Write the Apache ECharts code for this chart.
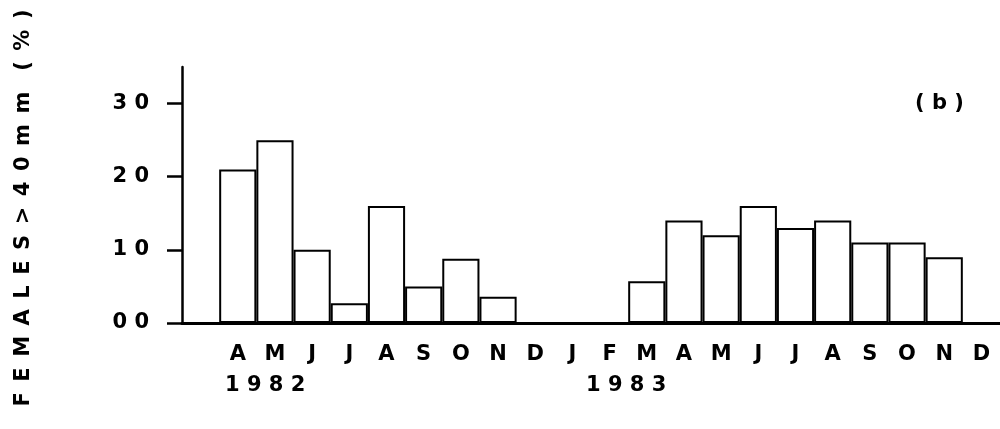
<!DOCTYPE html>
<html>
<head>
<meta charset="utf-8">
<script src="https://cdn.jsdelivr.net/npm/echarts@6/dist/echarts.min.js"></script>
<style>
  html, body { margin: 0; padding: 0; background: #fff; }
  #chart { width: 1000px; height: 429px; }
</style>
</head>
<body>
<div id="chart"></div>
<script>
// Monthly share of females larger than 40 mm, April 1982 – December 1983
const months = ['A','M','J','J','A','S','O','N','D','J','F','M','A','M','J','J','A','S','O','N','D'];
const femalesOver40 = [21, 25, 10, 2.7, 16, 5, 8.8, 3.6, null, null, null, 5.7, 14, 12, 16, 13, 14, 11, 11, 9, null];
const yTicks = [0, 10, 20, 30];
const yTickLabels = ['0 0', '1 0', '2 0', '3 0'];
const years = ['1 9 8 2', '1 9 8 3'];

const FONT = '"DejaVu Sans", "Liberation Sans", sans-serif';
const SIZE = 21;
const SP = '\u2002';

// a blank leading slot keeps the first bar clear of the vertical axis
const cats = [''].concat(months.map((m, i) => m + '\u200b'.repeat(i)));
const vals = [null].concat(femalesOver40);

const chart = echarts.init(document.getElementById('chart'), null, { renderer: 'canvas' });
chart.setOption({
  animation: false,
  backgroundColor: '#fff',
  grid: { left: 182, right: 0, top: 67, bottom: 106, containLabel: false },
  xAxis: {
    type: 'category',
    data: cats,
    boundaryGap: true,
    axisLine: { lineStyle: { color: '#000', width: 3 } },
    axisTick: { show: false },
    axisLabel: {
      color: '#000', fontFamily: FONT, fontWeight: 'bold', fontSize: SIZE,
      margin: 21, interval: 0,
      formatter: v => v.replace(/\u200b/g, '')
    },
    splitLine: { show: false }
  },
  yAxis: {
    type: 'value',
    min: 0, max: 35,
    axisLine: { show: true, lineStyle: { color: '#000', width: 2.5 } },
    axisTick: { show: true, inside: false, length: 15, customValues: yTicks, lineStyle: { color: '#000', width: 2.5 } },
    axisLabel: {
      color: '#000', fontFamily: FONT, fontWeight: 'bold', fontSize: SIZE,
      margin: 33, customValues: yTicks,
      formatter: v => yTickLabels[yTicks.indexOf(v)] ?? ''
    },
    splitLine: { show: false }
  },
  series: [{
    type: 'bar',
    data: vals,
    barCategoryGap: 0,
    itemStyle: { color: '#fff', borderColor: '#000', borderWidth: 2 }
  }],
  graphic: [
    {
      type: 'text', x: 24, y: 208, rotation: Math.PI / 2,
      style: {
        text: ['F','E','M','A','L','E','S','>','4','0','m','m'].join(SP) + SP + SP + ['(','%',')'].join(SP),
        fill: '#000', font: 'bold ' + SIZE + 'px ' + FONT,
        align: 'center', verticalAlign: 'middle'
      }
    },
    {
      type: 'text', x: 915, y: 104,
      style: { text: '( b )', fill: '#000', font: 'bold ' + SIZE + 'px ' + FONT, verticalAlign: 'middle' }
    },
    {
      type: 'text', x: 225, y: 386,
      style: { text: years[0], fill: '#000', font: 'bold ' + SIZE + 'px ' + FONT, verticalAlign: 'middle' }
    },
    {
      type: 'text', x: 586, y: 386,
      style: { text: years[1], fill: '#000', font: 'bold ' + SIZE + 'px ' + FONT, verticalAlign: 'middle' }
    }
  ]
});
</script>
</body>
</html>
